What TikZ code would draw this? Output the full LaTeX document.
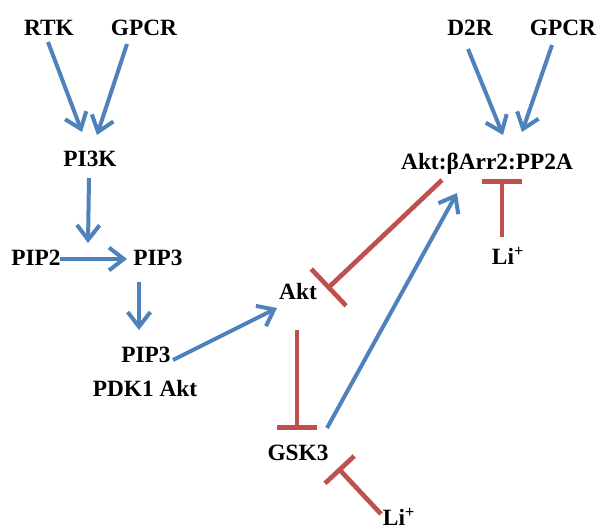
\documentclass[tikz,border=0pt]{standalone}
\usepackage{fontspec}
\setmainfont{Liberation Serif}
\usetikzlibrary{arrows.meta,calc}
\definecolor{ablue}{HTML}{4F81BD}
\definecolor{ared}{HTML}{C0504D}
\begin{document}
\begin{tikzpicture}[x=0.75pt,y=-0.75pt,
  lbl/.style={font=\fontsize{17.5}{21}\selectfont\bfseries, inner sep=0pt, text height=11.5pt, text depth=0pt},
  act/.style={draw=ablue, line width=3pt, -{Straight Barb[length=11pt,width=17pt]}},
  inh/.style={draw=ared, line width=3.5pt, -{Bar[width=30pt]}}]
\useasboundingbox (0,0) rectangle (600,529);
% nodes
\node[lbl] (rtk)   at (49,28)  {RTK};
\node[lbl] (gpcra) at (144,28) {GPCR};
\node[lbl] (pi3k)  at (90,159) {PI3K};
\node[lbl] (pip2)  at (36,258) {PIP2};
\node[lbl] (pip3)  at (158,258) {PIP3};
\node[lbl] (pip3b) at (146,355) {PIP3};
\node[lbl] (pdk)   at (145,389) {PDK1 Akt};
\node[lbl] (akt)   at (298,292) {Akt};
\node[lbl] (gsk)   at (298,453) {GSK3};
\node[lbl] (lib)   at (399,518) {Li\textsuperscript{+}};
\node[lbl] (d2r)   at (470,28)  {D2R};
\node[lbl] (gpcrb) at (563,28)  {GPCR};
\node[lbl] (cx)    at (487,162) {Akt:βArr2:PP2A};
\node[lbl] (lia)   at (508,257) {Li\textsuperscript{+}};
% activation
\draw[act] ($(rtk)+(-1,14)$) -- ($(pi3k)+(-8,-27)$);
\draw[act] ($(gpcra)+(-17,16)$) -- ($(pi3k)+(7,-24)$);
\draw[act] ($(pi3k)+(-1,19)$) -- ($(pi3k)+(-2,84)$);
\draw[act] ($(pip2)+(24,1)$) -- ($(pip3)+(-31,1)$);
\draw[act] ($(pip3)+(-19,24)$) -- ($(pip3b)+(-7,-25)$);
\draw[act] ($(pip3b)+(27,5)$) -- ($(akt)+(-21,16)$);
\draw[act] ($(gsk)+(29,-25)$) -- ($(cx)+(-30,31)$);
\draw[act] ($(d2r)+(-2,21)$) -- ($(cx)+(16,-27)$);
\draw[act] ($(gpcrb)+(-11,17)$) -- ($(cx)+(35,-30)$);
% inhibition
\draw[inh] ($(akt)+(-1,38)$) -- ($(gsk)+(-1,-23)$);
\draw[inh] ($(lib)+(-18,-4)$) -- ($(gsk)+(40,15)$);
\draw[inh, -{Bar[width=38pt]}] ($(cx)+(-45,18)$) -- ($(akt)+(29,-3)$);
\draw[inh] ($(lia)+(-6,-20)$) -- ($(cx)+(15,17)$);
\end{tikzpicture}
\end{document}
